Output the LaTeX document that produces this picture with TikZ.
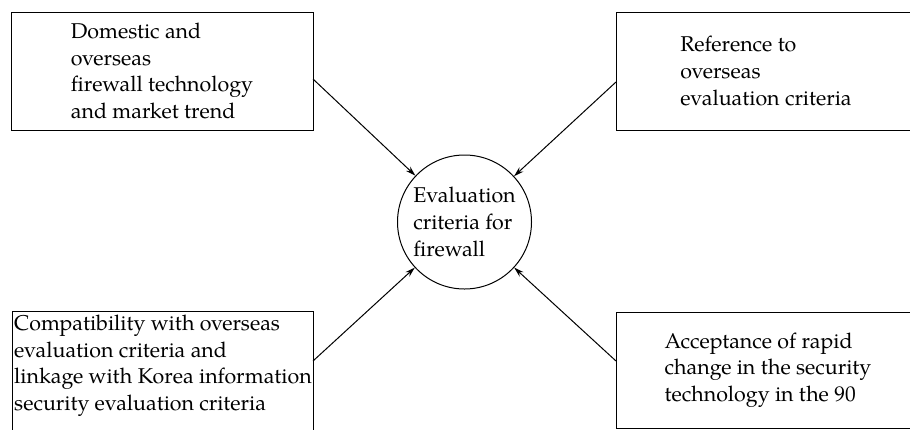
\documentclass[tikz,border=0pt]{standalone}
\usepackage{fontspec}
\setmainfont{TeX Gyre Pagella}
\usetikzlibrary{arrows.meta}
\tikzset{
  every picture/.style={x=1pt,y=-1pt},
  txt/.style={font=\fontsize{21.4}{26.6}\selectfont, align=left},
  box/.style={txt, draw, line width=1pt, inner sep=0pt},
  hub/.style={txt, draw, circle, line width=1pt, minimum size=134pt, inner sep=0pt},
  conn/.style={line width=1pt, -{Stealth[length=10pt,width=6pt]}}
}
\begin{document}
\begin{tikzpicture}
\clip (0,0) rectangle (910,429);
\fill[white] (0,0) rectangle (910,429);
\node[hub] (c) at (464.5,222) {Evaluation\\criteria for\\firewall};
\node[box, minimum width=302pt, minimum height=118pt] (tl) at (162,71)
  {Domestic and\\overseas\\firewall technology\\and market trend};
\node[box, minimum width=300pt, minimum height=118pt] (tr) at (766,71)
  {Reference to\\overseas\\evaluation criteria};
\node[box, minimum width=304pt, minimum height=116pt] (br) at (768,370)
  {Acceptance of rapid\\change in the security\\technology in the 90};
\node[txt, inner sep=0pt, anchor=north west] (bl) at (14,315)
  {Compatibility with overseas\\evaluation criteria and\\linkage with Korea information\\security evaluation criteria};
\draw[line width=1pt] (12,440) |- (313,311) -- (313,440);
\coordinate (a1) at (313,79);
\coordinate (a2) at (616,82);
\coordinate (a3) at (313,361);
\coordinate (a4) at (616,361);
\draw[conn] (a1) -- (c);
\draw[conn] (a2) -- (c);
\draw[conn] (a3) -- (c);
\draw[conn] (a4) -- (c);
\end{tikzpicture}
\end{document}
